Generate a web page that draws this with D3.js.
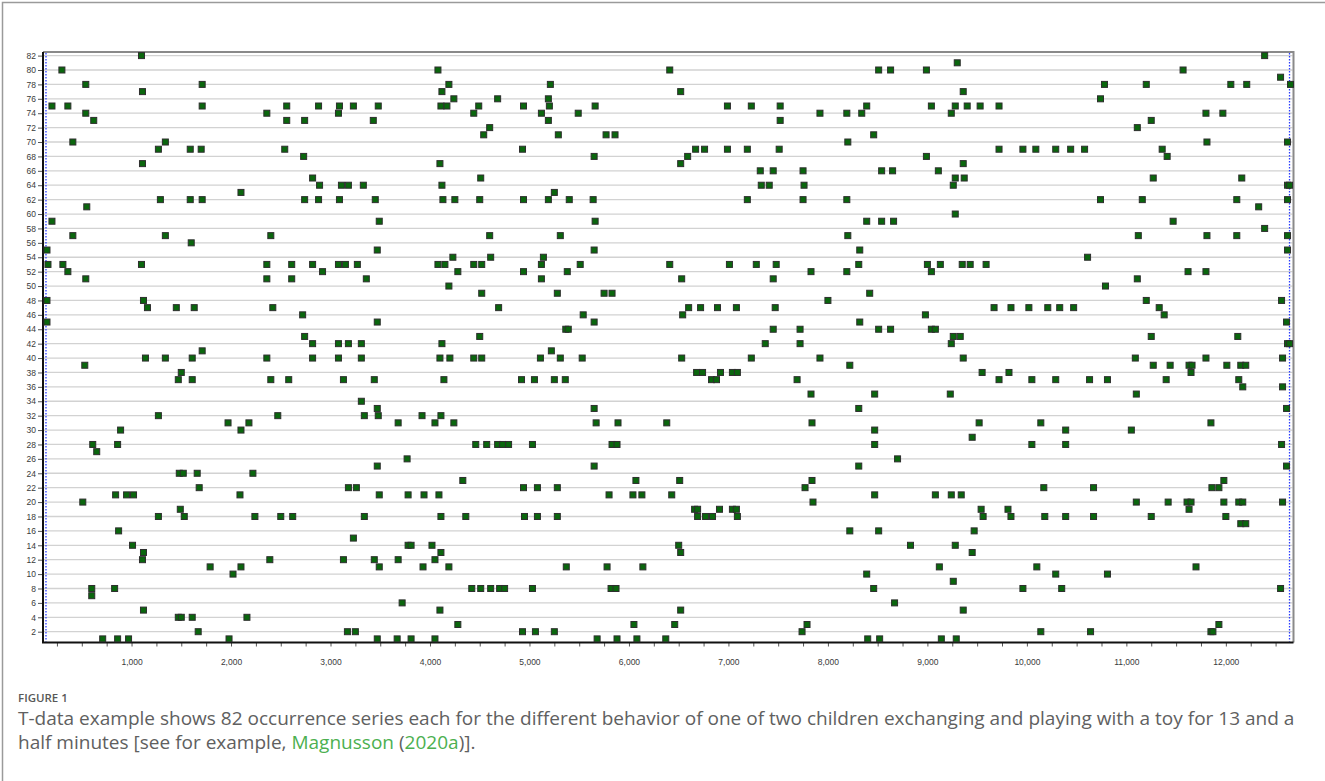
<!DOCTYPE html>
<html>
<head>
<meta charset="utf-8">
<script src="https://cdn.jsdelivr.net/npm/d3@7"></script>
<style>
  body { margin: 0; background: #fff; }
</style>
</head>
<body>
<div id="chart"></div>
<script>
// occurrence times (frames) per behaviour series
var rows = [
  [82, [1100, 12390]],
  [81, [9300]],
  [80, [300, 4080, 6410, 8510, 8630, 8990, 11570]],
  [79, [12550]],
  [78, [540, 1710, 4190, 5210, 10780, 11200, 12050, 12210, 12650]],
  [77, [1110, 4120, 6520, 9360]],
  [76, [4240, 4680, 5190, 10740]],
  [75, [200, 360, 1710, 2560, 2880, 3090, 3230, 3480, 4110, 4170, 4490, 4940, 5200, 5660, 6990, 7230, 7520, 8390, 9040, 9280, 9400, 9530, 9720]],
  [74, [540, 2360, 3080, 4440, 5120, 5490, 7920, 8190, 8340, 9240, 11800, 11970]],
  [73, [620, 2560, 2740, 3430, 5190, 7520, 11250]],
  [72, [4600, 11110]],
  [71, [4540, 5290, 5770, 5860, 8460]],
  [70, [410, 1340, 8200, 11810, 12620]],
  [69, [1270, 1590, 1700, 2540, 4930, 6670, 6760, 6990, 7190, 7510, 9720, 9960, 10090, 10290, 10440, 10580, 11360]],
  [68, [2730, 5650, 6590, 8990, 11410]],
  [67, [1110, 4100, 6520, 9360]],
  [66, [7320, 7450, 7750, 8540, 8650, 9110]],
  [65, [2820, 4510, 9280, 9370, 11270, 12160]],
  [64, [2890, 3110, 3180, 3330, 4120, 7330, 7410, 7760, 9260, 12620, 12640]],
  [63, [2100, 5250]],
  [62, [1290, 1590, 1710, 2740, 2880, 3090, 3450, 4130, 4250, 4500, 4940, 5190, 5400, 5640, 7190, 7750, 8190, 10740, 11160, 12110, 12620]],
  [61, [550, 12330]],
  [60, [9280]],
  [59, [200, 3490, 5660, 8390, 8540, 8660, 11470]],
  [58, [12390]],
  [57, [410, 1340, 2400, 4600, 5310, 8200, 11120, 11810, 12110, 12620]],
  [56, [1600]],
  [55, [150, 3470, 5650, 8320, 12620]],
  [54, [4230, 4610, 5140, 10610]],
  [53, [160, 310, 1100, 2360, 2610, 2820, 3080, 3150, 3270, 4080, 4150, 4440, 4520, 5120, 5510, 6410, 7010, 7280, 7480, 8310, 9000, 9130, 9350, 9430, 9590]],
  [52, [360, 2920, 4280, 4940, 5380, 7830, 8190, 9040, 11620, 11800]],
  [51, [540, 2360, 2610, 3360, 5120, 6530, 7450, 11110]],
  [50, [4190, 10790]],
  [49, [4520, 5280, 5750, 5830, 8420]],
  [48, [150, 1120, 8000, 11200, 12560]],
  [47, [1160, 1450, 1630, 2420, 4690, 6600, 6720, 6890, 7080, 7470, 9670, 9840, 10020, 10210, 10330, 10470, 11330]],
  [46, [2720, 5540, 6540, 8980, 11380]],
  [45, [150, 3470, 5650, 8320, 12610]],
  [44, [5365, 5390, 7450, 7720, 8510, 8630, 9040, 9080]],
  [43, [2740, 4500, 9260, 9330, 11250, 12120]],
  [42, [2820, 3080, 3180, 3310, 4120, 7370, 7720, 9240, 12620, 12640]],
  [41, [1710, 5220]],
  [40, [1140, 1340, 1610, 2360, 2820, 3080, 3310, 4100, 4200, 4440, 4520, 5110, 5310, 5530, 6530, 7230, 7920, 9360, 11090, 11800, 12570]],
  [39, [530, 8220, 11270, 11440, 11630, 11660, 12010, 12150, 12200]],
  [38, [1500, 6680, 6740, 6920, 7040, 7090, 9550, 9820, 11650]],
  [37, [1470, 1610, 2400, 2580, 3130, 3440, 4140, 4920, 5050, 5250, 5360, 6830, 6880, 7690, 9720, 10050, 10290, 10630, 10810, 11400, 12130]],
  [36, [12170, 12570]],
  [35, [7830, 8470, 9230, 11100]],
  [34, [3310]],
  [33, [3470, 5650, 8310, 12610]],
  [32, [1270, 2470, 3340, 3480, 3920, 4110]],
  [31, [1970, 2180, 3680, 4050, 4240, 5670, 5890, 6380, 7840, 9520, 10140, 11850]],
  [30, [890, 2100, 8470, 10390, 11050]],
  [29, [9450]],
  [28, [610, 860, 4460, 4570, 4680, 4730, 4790, 5030, 5830, 5880, 8470, 10050, 10390, 12560]],
  [27, [650]],
  [26, [3770, 8700]],
  [25, [3470, 5650, 8310, 12610]],
  [24, [1480, 1520, 1660, 2220]],
  [23, [4330, 6070, 6510, 7840, 11980]],
  [22, [1680, 3180, 3260, 4940, 5080, 5280, 7770, 10170, 10670, 11860, 11930]],
  [21, [840, 950, 1020, 2090, 3490, 3780, 3940, 4090, 5800, 6040, 6130, 6430, 8470, 9080, 9240, 9340]],
  [20, [510, 7850, 11100, 11420, 11610, 11650, 11980, 12130, 12170, 12570]],
  [19, [1490, 6660, 6690, 6910, 7040, 7080, 9540, 9810, 11630]],
  [18, [1270, 1530, 2240, 2500, 2620, 3340, 4110, 4360, 4950, 5080, 5280, 6690, 6770, 6840, 7090, 9560, 9840, 10180, 10390, 10670, 11250, 12000]],
  [17, [12150, 12200]],
  [16, [870, 8220, 8510, 9470]],
  [15, [3230]],
  [14, [1010, 3780, 3810, 4020, 6500, 8830, 9280]],
  [13, [1120, 4110, 6520, 9450]],
  [12, [1110, 2390, 3130, 3440, 3680, 4050]],
  [11, [1790, 2100, 3490, 3930, 4190, 5370, 5780, 6140, 9120, 10100, 11700]],
  [10, [2020, 8390, 10290, 10810]],
  [9, [9260]],
  [8, [600, 830, 4420, 4510, 4610, 4700, 4750, 5030, 5820, 5870, 8460, 9960, 10350, 12550]],
  [7, [600]],
  [6, [3720, 8670]],
  [5, [1120, 4100, 6520, 9360]],
  [4, [1470, 1500, 1610, 2160]],
  [3, [4280, 6050, 6460, 7790, 11930]],
  [2, [1670, 3170, 3250, 4930, 5060, 5250, 7740, 10140, 10640, 11850, 11870]],
  [1, [710, 860, 970, 1980, 3470, 3670, 3810, 4050, 5680, 5880, 6080, 6370, 8400, 8520, 9140, 9290]]
];

var yTicks = d3.range(2, 83, 2);            // 2 .. 82
var xTicks = d3.range(250, 12501, 250);     // minor + major ticks
var obsStart = 140, obsEnd = 12640;         // blue dotted start / end markers

var captionHead = "FIGURE 1";
var captionLine1 = "T-data example shows 82 occurrence series each for the different behavior of one of two children exchanging and playing with a toy for 13 and a";

var W = 1325, H = 781;
var plot = {left: 43, right: 1293.5, top: 52, bottom: 642.5};

var svg = d3.select("#chart")
  .append("svg")
    .attr("width", W)
    .attr("height", H);

// outer figure frame (only left and top edges visible)
svg.append("path")
  .attr("d", "M2.5," + H + "V2.5H" + W)
  .attr("fill", "none")
  .attr("stroke", "#9a9a9a")
  .attr("stroke-width", 1.5);

var x = d3.scaleLinear().domain([110, 12680]).range([plot.left, plot.right]);
var y = d3.scaleLinear().domain([0.5, 82.5]).range([plot.bottom, plot.top]);

// horizontal grid lines at even series numbers
svg.append("g")
  .selectAll("line")
  .data(yTicks)
  .enter().append("line")
    .attr("x1", plot.left + 1)
    .attr("x2", plot.right - 1)
    .attr("y1", function(d) { return y(d); })
    .attr("y2", function(d) { return y(d); })
    .attr("stroke", "#d2d2d2")
    .attr("stroke-width", 1.3);

// top and right border
svg.append("path")
  .attr("d", "M" + plot.left + "," + plot.top + "H" + plot.right + "V" + plot.bottom)
  .attr("fill", "none")
  .attr("stroke", "#8a8a8a")
  .attr("stroke-width", 2);

// observation start / end markers
svg.selectAll(".obs")
  .data([obsStart, obsEnd])
  .enter().append("line")
    .attr("class", "obs")
    .attr("x1", function(d) { return x(d); })
    .attr("x2", function(d) { return x(d); })
    .attr("y1", plot.top + 1)
    .attr("y2", plot.bottom - 1)
    .attr("stroke", "#2a3cff")
    .attr("stroke-width", 1.3)
    .attr("stroke-dasharray", "1.5,1.5");

// y axis
var yAxis = svg.append("g")
  .attr("transform", "translate(" + plot.left + ",0)")
  .call(d3.axisLeft(y).tickValues(yTicks).tickSize(5).tickPadding(2));
yAxis.select(".domain").remove();
yAxis.selectAll("line").attr("stroke", "#555");
yAxis.selectAll("text")
  .attr("fill", "#3a3a3a")
  .style("font-family", "'Liberation Sans', Arial, sans-serif")
  .style("font-size", "8.5px");

// x axis
var xAxis = svg.append("g")
  .attr("transform", "translate(0," + plot.bottom + ")")
  .call(d3.axisBottom(x).tickValues(xTicks).tickSize(4).tickPadding(12)
    .tickFormat(function(d) { return d % 1000 === 0 ? d3.format(",")(d) : ""; }));
xAxis.select(".domain").remove();
xAxis.selectAll("line").attr("stroke", "#555");
xAxis.selectAll("text")
  .attr("fill", "#3a3a3a")
  .style("font-family", "'Liberation Sans', Arial, sans-serif")
  .style("font-size", "8.5px");

// black axis lines (left + bottom)
svg.append("path")
  .attr("d", "M" + plot.left + "," + plot.top + "V" + plot.bottom + "H" + plot.right)
  .attr("fill", "none")
  .attr("stroke", "#111")
  .attr("stroke-width", 2);

// occurrence markers
var events = [];
rows.forEach(function(r) {
  r[1].forEach(function(t) { events.push({s: r[0], t: t}); });
});

svg.append("g")
  .selectAll("rect")
  .data(events)
  .enter().append("rect")
    .attr("x", function(d) { return x(d.t) - 3; })
    .attr("y", function(d) { return y(d.s) - 3; })
    .attr("width", 6)
    .attr("height", 6)
    .attr("fill", "#0a660d")
    .attr("stroke", "#2e2e2e")
    .attr("stroke-width", 1);

// caption
var capFont = "'Open Sans', 'Noto Sans', sans-serif";
svg.append("text")
  .attr("x", 18)
  .attr("y", 702)
  .attr("fill", "#585858")
  .style("font-family", capFont)
  .style("font-size", "11.5px")
  .style("font-weight", 600)
  .text(captionHead);

var l1 = svg.append("text")
  .attr("x", 18)
  .attr("y", 725)
  .attr("fill", "#606060")
  .style("font-family", capFont)
  .style("font-size", "16px")
  .text(captionLine1);

// fit the first caption line to the width seen in the figure
var fs = 16 * 1278 / l1.node().getComputedTextLength();
l1.style("font-size", fs + "px");

var l2 = svg.append("text")
  .attr("x", 18)
  .attr("y", 749)
  .attr("fill", "#606060")
  .style("font-family", capFont)
  .style("font-size", fs + "px");
l2.append("tspan").text("half minutes [see for example, ");
l2.append("tspan").attr("fill", "#4cb050").text("Magnusson");
l2.append("tspan").text(" (");
l2.append("tspan").attr("fill", "#4cb050").text("2020a");
l2.append("tspan").text(")].");
</script>
</body>
</html>
